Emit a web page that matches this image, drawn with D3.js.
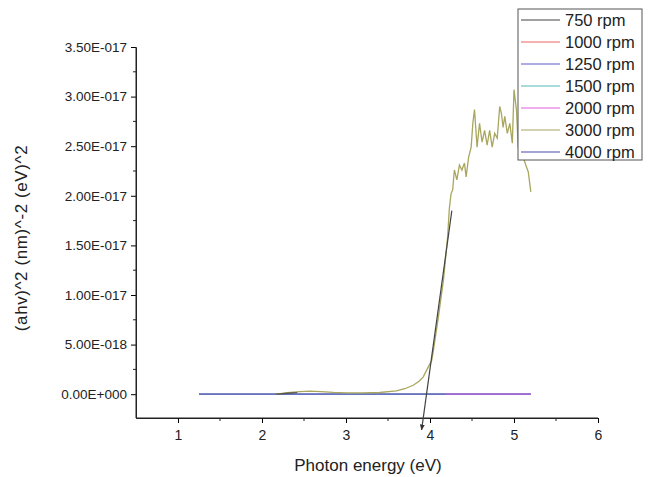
<!DOCTYPE html>
<html>
<head>
<meta charset="utf-8">
<script src="https://cdn.jsdelivr.net/npm/d3@7"></script>
<style>
  body { margin: 0; background: #fff; }
  text { font-family: "Liberation Sans", Arial, sans-serif; fill: #222; }
</style>
</head>
<body>
<div id="chart"></div>
<script>
// series names and legend colours
const seriesNames = ["750 rpm", "1000 rpm", "1250 rpm", "1500 rpm", "2000 rpm", "3000 rpm", "4000 rpm"];
const seriesColors = ["#444444", "#f06060", "#5a5ac8", "#55b8b8", "#e060e0", "#a9a65e", "#4a4aa8"];

// flat series sitting on zero
const s750x = [2.17, 2.25, 2.35, 2.42];
const s750y = [0.0e-19, 0.5e-19, 1.2e-19, 1.5e-19];
const s1000x = [1.25, 5.2];
const s1000y = [0, 0];
const s1250x = [1.25, 5.2];
const s1250y = [0, 0];
const s1500x = [1.25, 5.2];
const s1500y = [0, 0];
const s2000x = [4.19, 5.2];
const s2000y = [0, 0];
const s4000x = [1.25, 4.19, 5.2];
const s4000y = [0, 0, 0];

// 3000 rpm absorption curve
const s3000x = [2.17, 2.3, 2.45, 2.57, 2.7, 2.85, 3.0, 3.2, 3.4, 3.6, 3.7, 3.8, 3.87, 3.92, 3.98, 4.02,
  4.04, 4.1, 4.16, 4.21, 4.23, 4.25, 4.27, 4.29, 4.32, 4.35, 4.38, 4.41, 4.43, 4.46, 4.49, 4.51,
  4.53, 4.56, 4.59, 4.62, 4.65, 4.68, 4.71, 4.74, 4.77, 4.8, 4.83, 4.85, 4.87, 4.89, 4.92, 4.95,
  4.98, 5.0, 5.03, 5.05, 5.09, 5.14, 5.17, 5.2];
const s3000y = [0, 1.5e-19, 2.6e-19, 3.0e-19, 2.6e-19, 1.8e-19, 1.3e-19, 1.3e-19, 1.7e-19, 3.3e-19, 5.5e-19, 9.0e-19, 1.3e-18, 1.75e-18, 2.75e-18, 3.4e-18,
  4.4e-18, 7.8e-18, 1.15e-17, 1.59e-17, 1.87e-17, 2.02e-17, 2.06e-17, 2.26e-17, 2.16e-17, 2.31e-17, 2.26e-17, 2.33e-17, 2.19e-17, 2.39e-17, 2.49e-17, 2.73e-17,
  2.87e-17, 2.49e-17, 2.73e-17, 2.54e-17, 2.66e-17, 2.51e-17, 2.66e-17, 2.49e-17, 2.63e-17, 2.58e-17, 2.9e-17, 2.83e-17, 2.69e-17, 2.8e-17, 2.63e-17, 2.73e-17,
  2.53e-17, 3.07e-17, 2.86e-17, 2.49e-17, 2.44e-17, 2.31e-17, 2.24e-17, 2.04e-17];

// linear fit (tangent) for band gap
const tangentX = [4.26, 3.9];
const tangentY = [1.85e-17, -3.6e-18];

const xTicks = [1, 2, 3, 4, 5, 6];
const yTicks = [0, 5e-18, 1e-17, 1.5e-17, 2e-17, 2.5e-17, 3e-17, 3.5e-17];

const width = 650, height = 477;
const x = d3.scaleLinear().domain([0.5, 6]).range([136, 598]);
const y = d3.scaleLinear().domain([-2.4e-18, 3.5e-17]).range([418, 47]);

const fmt = (v) => {
  if (v === 0) return "0.00E+000";
  const e = Math.floor(Math.log10(Math.abs(v)) + 1e-9);
  const m = v / Math.pow(10, e);
  const sign = e < 0 ? "-" : "+";
  return m.toFixed(2) + "E" + sign + String(Math.abs(e)).padStart(3, "0");
};

const svg = d3.select("#chart").append("svg")
  .attr("width", width).attr("height", height);

// axes
const xAxis = svg.append("g").attr("transform", `translate(0,418)`)
  .call(d3.axisBottom(x).tickValues(xTicks).tickSize(5).tickSizeOuter(0).tickPadding(7).tickFormat(d3.format("d")));
xAxis.selectAll(".tick text").style("font-size", "14px");
svg.append("g").attr("transform", `translate(0,418)`)
  .selectAll("line").data(d3.range(1.5, 6, 1)).join("line")
  .attr("x1", (d) => x(d)).attr("x2", (d) => x(d)).attr("y1", 0).attr("y2", 3)
  .attr("stroke", "#222");

const yAxis = svg.append("g").attr("transform", `translate(136,0)`)
  .call(d3.axisLeft(y).tickValues(yTicks).tickSize(5).tickSizeOuter(0).tickPadding(4).tickFormat(fmt));
yAxis.selectAll(".tick text").style("font-size", "13.5px");
svg.append("g").attr("transform", `translate(136,0)`)
  .selectAll("line").data(d3.range(0.25e-17, 3.5e-17, 0.5e-17)).join("line")
  .attr("x1", 0).attr("x2", -3).attr("y1", (d) => y(d)).attr("y2", (d) => y(d))
  .attr("stroke", "#222");

// extend axis lines to the corner
svg.append("line").attr("x1", 136).attr("x2", 136).attr("y1", 47).attr("y2", 418).attr("stroke", "#222");
svg.append("line").attr("x1", 136).attr("x2", 598).attr("y1", 418).attr("y2", 418).attr("stroke", "#222");
svg.selectAll(".domain").attr("stroke", "#222");

svg.append("text").attr("x", 368).attr("y", 471).attr("text-anchor", "middle")
  .style("font-size", "17px").text("Photon energy (eV)");
svg.append("text").attr("transform", "translate(27,238) rotate(-90)").attr("text-anchor", "middle")
  .style("font-size", "17px").style("letter-spacing", "0.6px").text("(ahv)^2 (nm)^-2 (eV)^2");

// data lines
const line = d3.line().x((d) => x(d[0])).y((d) => y(d[1]));
const zip = (a, b) => a.map((v, i) => [v, b[i]]);

const series = [
  { xs: s1000x, ys: s1000y, c: 1, op: 0.7 },
  { xs: s1250x, ys: s1250y, c: 2, op: 0.7 },
  { xs: s1500x, ys: s1500y, c: 3, op: 0.7 },
  { xs: s4000x, ys: s4000y, c: 2, op: 0.85 },
  { xs: s2000x, ys: s2000y, c: 4, op: 0.7 },
  { xs: s3000x, ys: s3000y, c: 5, op: 1 },
  { xs: s750x, ys: s750y, c: 0, op: 0.8 },
];
svg.append("g").selectAll("path").data(series).join("path")
  .attr("d", (d) => line(zip(d.xs, d.ys)))
  .attr("fill", "none")
  .attr("stroke", (d) => seriesColors[d.c])
  .attr("stroke-opacity", (d) => d.op)
  .attr("stroke-width", 1.3);

// tangent with arrow head
svg.append("defs").append("marker")
  .attr("id", "arrow").attr("viewBox", "0 0 10 10").attr("refX", 9).attr("refY", 5)
  .attr("markerWidth", 5).attr("markerHeight", 5).attr("orient", "auto")
  .append("path").attr("d", "M0,1 L10,5 L0,9 Z").attr("fill", "#333");
svg.append("path")
  .attr("d", line(zip(tangentX, tangentY)))
  .attr("fill", "none").attr("stroke", "#444").attr("stroke-width", 1.2)
  .attr("marker-end", "url(#arrow)");

// legend
const lg = svg.append("g");
lg.append("rect").attr("x", 518).attr("y", 9).attr("width", 124).attr("height", 151)
  .attr("fill", "#fff").attr("stroke", "#555").attr("stroke-width", 1);
const items = lg.selectAll("g.item").data(seriesNames).join("g")
  .attr("transform", (d, i) => `translate(0,${20 + i * 22})`);
items.append("line").attr("x1", 521).attr("x2", 560).attr("y1", 0).attr("y2", 0)
  .attr("stroke", (d, i) => seriesColors[i]).attr("stroke-width", 1.2);
items.append("text").attr("x", 565).attr("y", 6).style("font-size", "16.5px").text((d) => d);
</script>
</body>
</html>
